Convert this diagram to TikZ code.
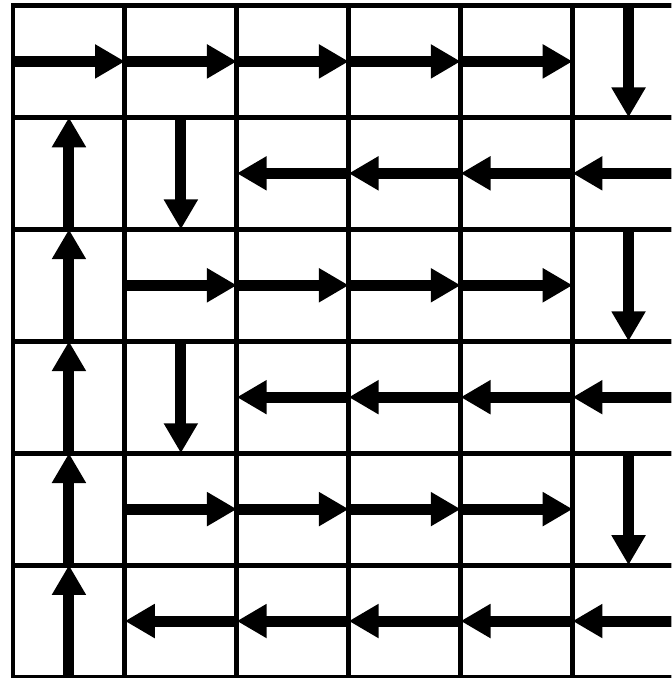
\documentclass[tikz,border=0pt]{standalone}
\usepackage{tikz}
\usetikzlibrary{arrows.meta}

\begin{document}
\begin{tikzpicture}[x=1cm,y=1cm,
    gridline/.style={line width=1.25pt,line cap=rect},
    flow/.style={line width=2.8pt,-{Triangle[length=7.6pt,width=8.2pt]}}]
    % Visible window (right column and bottom edge are cut off)
    \clip (-0.116,-0.009) rectangle (5.882,6.049);

    % Grid of cells
    \draw[gridline] (0,0) grid (6,6);

    % Edge midpoints: h = on vertical lines, v = on horizontal lines
    \foreach \i in {0,...,6}
        \foreach \j in {0,...,5}
            \coordinate (h-\i-\j) at (\i,\j+0.5);
    \foreach \i in {0,...,5}
        \foreach \j in {0,...,6}
            \coordinate (v-\i-\j) at (\i+0.5,\j);

    % Rows running to the right
    \foreach \j/\s in {5/0,3/1,1/1}
        \foreach \i in {\s,...,4} {
            \pgfmathtruncatemacro\k{\i+1}
            \draw[flow] (h-\i-\j) -- (h-\k-\j);
        }

    % Rows running to the left
    \foreach \j/\s in {4/2,2/2,0/1}
        \foreach \i in {\s,...,5} {
            \pgfmathtruncatemacro\k{\i+1}
            \draw[flow] (h-\k-\j) -- (h-\i-\j);
        }

    % Turns down in the last column
    \foreach \j in {6,4,2} {
        \pgfmathtruncatemacro\k{\j-1}
        \draw[flow] (v-5-\j) -- (v-5-\k);
    }

    % Turns down in the second column
    \foreach \j in {5,3} {
        \pgfmathtruncatemacro\k{\j-1}
        \draw[flow] (v-1-\j) -- (v-1-\k);
    }

    % Way back up in the first column
    \foreach \j in {0,...,4} {
        \pgfmathtruncatemacro\k{\j+1}
        \draw[flow] (v-0-\j) -- (v-0-\k);
    }
\end{tikzpicture}
\end{document}
